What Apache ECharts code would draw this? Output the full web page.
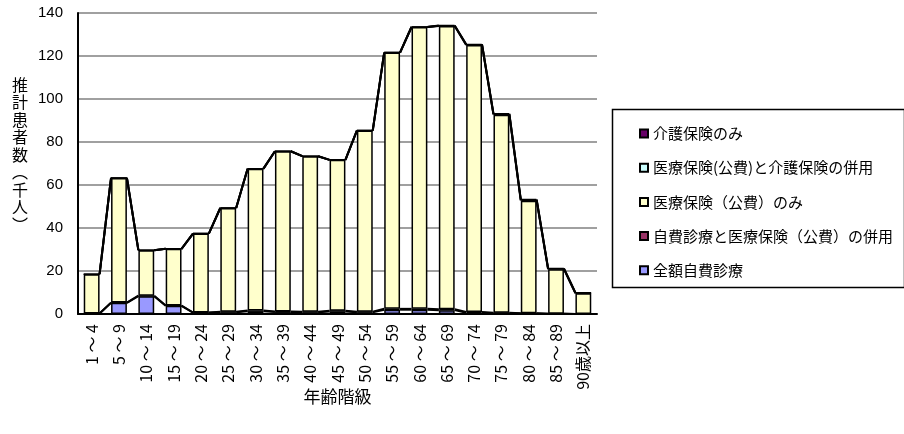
<!DOCTYPE html>
<html>
<head>
<meta charset="utf-8">
<script src="https://cdn.jsdelivr.net/npm/echarts@6/dist/echarts.min.js"></script>
<style>
  html, body { margin: 0; padding: 0; background: #fff; }
  #chart { width: 904px; height: 434px; }
</style>
</head>
<body>
<div id="chart"></div>
<script>
// 年齢階級別 推計患者数（千人）
const categories = ['1～4', '5～9', '10～14', '15～19', '20～24', '25～29', '30～34', '35～39', '40～44',
  '45～49', '50～54', '55～59', '60～64', '65～69', '70～74', '75～79', '80～84', '85～89', '90歳以上'];

const zengakuJihi = [0.2, 5.2, 8.3, 3.8, 0.6, 0.8, 1.3, 0.9, 0.8, 1.2, 0.8, 2.0, 2.0, 1.8, 0.6, 0.4, 0.2, 0.1, 0.0];
const jihiIryoHeiyo = [0.0, 0.1, 0.2, 0.1, 0.1, 0.2, 0.3, 0.3, 0.3, 0.3, 0.3, 0.4, 0.4, 0.4, 0.3, 0.2, 0.1, 0.0, 0.0];
const iryoNomi = [18.3, 58.0, 21.2, 26.4, 36.7, 48.3, 66.0, 74.5, 72.3, 70.2, 84.2, 119.2, 131.1, 131.8, 124.2, 92.1, 52.4, 20.7, 9.6];
const iryoKaigoHeiyo = [0, 0, 0, 0, 0, 0, 0, 0, 0, 0, 0, 0, 0, 0.1, 0.2, 0.3, 0.4, 0.3, 0.2];
const kaigoNomi = [0, 0, 0, 0, 0, 0, 0, 0, 0, 0, 0, 0, 0, 0.1, 0.2, 0.2, 0.2, 0.1, 0.1];

const yTicks = { min: 0, max: 140, interval: 20 };

// stacked from the bottom up
const layers = [
  { name: '全額自費診療', data: zengakuJihi, color: '#9999FF' },
  { name: '自費診療と医療保険（公費）の併用', data: jihiIryoHeiyo, color: '#993366' },
  { name: '医療保険（公費）のみ', data: iryoNomi, color: '#FFFFCC' },
  { name: '医療保険(公費)と介護保険の併用', data: iryoKaigoHeiyo, color: '#CCFFFF' },
  { name: '介護保険のみ', data: kaigoNomi, color: '#660066' }
];

const BAR_FRAC = 0.58;
const jpFont = '"Noto Sans CJK JP", "Liberation Sans", sans-serif';
const numFont = '"Liberation Sans", Arial, sans-serif';

// running totals for each stack level, used by the series lines
const cumulative = [];
let running = categories.map(() => 0);
layers.forEach(l => {
  running = running.map((v, i) => v + l.data[i]);
  cumulative.push(running.slice());
});

const barSeries = layers.map(l => ({
  name: l.name,
  type: 'bar',
  stack: 'total',
  barWidth: (BAR_FRAC * 100) + '%',
  data: l.data,
  itemStyle: { color: l.color, borderColor: '#000', borderWidth: 1.5 },
  emphasis: { disabled: true },
  z: 3
}));

// Excel-style series lines joining the top corners of neighbouring bars
const seriesLines = {
  type: 'custom',
  silent: true,
  z: 4,
  data: categories.slice(0, -1).map((c, i) => [i]),
  encode: { x: 0 },
  renderItem: function (params, api) {
    const i = api.value(0);
    const band = api.size([1, 0])[0];
    const half = band * BAR_FRAC / 2;
    const children = cumulative.map(cum => {
      const a = api.coord([i, cum[i]]);
      const b = api.coord([i + 1, cum[i + 1]]);
      return {
        type: 'line',
        shape: { x1: a[0] + half, y1: a[1], x2: b[0] - half, y2: b[1] },
        style: { stroke: '#000', lineWidth: 2 }
      };
    });
    return { type: 'group', children: children };
  }
};

const chart = echarts.init(document.getElementById('chart'), null, { renderer: 'canvas' });
chart.setOption({
  animation: false,
  backgroundColor: '#fff',
  grid: { left: 78, right: 307, top: 13, bottom: 120 },
  legend: {
    orient: 'vertical',
    left: 634,
    top: 121,
    itemGap: 19.2,
    itemWidth: 8,
    itemHeight: 8,
    icon: 'rect',
    selectedMode: false,
    data: layers.slice().reverse().map(l => l.name),
    textStyle: { fontFamily: jpFont, fontSize: 15, lineHeight: 15, color: '#000' }
  },
  graphic: [{
    type: 'rect',
    left: 610,
    top: 107,
    shape: { width: 292, height: 178 },
    style: { fill: 'none', stroke: '#000', lineWidth: 1.5 },
    z: 0
  }],
  xAxis: {
    type: 'category',
    data: categories,
    name: '年齢階級',
    nameLocation: 'middle',
    nameGap: 74,
    nameMoveOverlap: false,
    nameTextStyle: { fontFamily: jpFont, fontSize: 17, color: '#000' },
    axisLine: { lineStyle: { color: '#000', width: 2 } },
    axisTick: { inside: true, length: 4, lineStyle: { color: '#000', width: 1.5 } },
    axisLabel: {
      rotate: 90, fontFamily: jpFont, fontSize: 16, color: '#000', margin: 10,
      formatter: v => v.replace('～', ' ～ ')
    }
  },
  yAxis: {
    type: 'value',
    min: yTicks.min,
    max: yTicks.max,
    interval: yTicks.interval,
    // trailing blank line lifts the stacked characters slightly above the axis middle
    name: '推\n計\n患\n者\n数\n︵\n千\n人\n︶\n',
    nameLocation: 'middle',
    nameRotate: 0,
    nameGap: 50,
    nameMoveOverlap: false,
    nameTextStyle: { fontFamily: jpFont, fontSize: 16, color: '#000', lineHeight: 17.5 },
    axisLine: { show: true, lineStyle: { color: '#000', width: 2 } },
    axisTick: { show: false },
    axisLabel: { fontFamily: numFont, fontSize: 15, color: '#000', margin: 15 },
    splitLine: { lineStyle: { color: '#A0A0A0', width: 2 } }
  },
  series: barSeries.concat([seriesLines])
});
</script>
</body>
</html>
